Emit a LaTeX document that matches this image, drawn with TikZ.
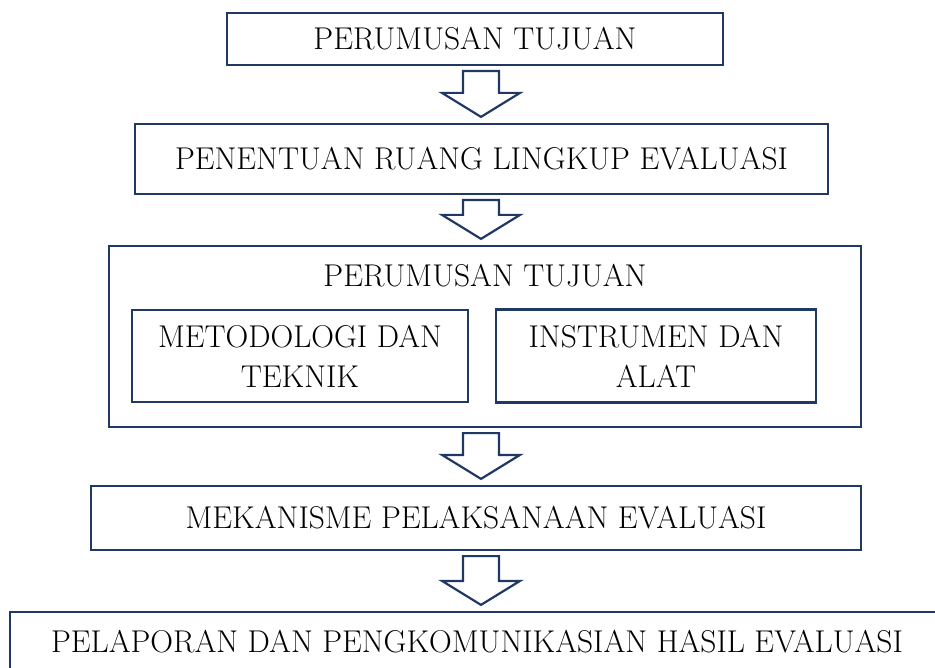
\documentclass[tikz,border=0pt]{standalone}
\usepackage{fontspec}
\usetikzlibrary{calc}
\definecolor{biru}{HTML}{1F3864}

\begin{document}
\begin{tikzpicture}[
  x=1pt, y=-1pt,
  kotak/.style={draw=biru, line width=2.2pt, inner sep=0pt, align=center, font=\fontsize{31.5}{40}\selectfont},
  judul/.style={inner sep=0pt, font=\fontsize{31.5}{40}\selectfont},
  panah/.style={draw=biru, line width=2.2pt, fill=white, line join=miter}
]
\useasboundingbox (0,0) rectangle (935,668);

%% BOXES
\node[kotak, minimum width=496, minimum height=52] (tujuan) at (475,39) {PERUMUSAN TUJUAN};
\node[kotak, minimum width=693, minimum height=70] (ruang) at (481.5,159) {PENENTUAN RUANG LINGKUP EVALUASI};

% outer box with two inner boxes
\node[kotak, minimum width=752, minimum height=181] (rencana) at (485,336.5) {};
\node[judul] (judulrencana) at (485,276) {PERUMUSAN TUJUAN};
\node[kotak, minimum width=336, minimum height=92] (metode) at (300,356) {METODOLOGI DAN\\TEKNIK};
\node[kotak, minimum width=320, minimum height=93] (instrumen) at (656,356) {INSTRUMEN DAN\\ALAT};

\node[kotak, minimum width=770, minimum height=64] (mekanisme) at (476,518) {MEKANISME PELAKSANAAN EVALUASI};
\node[kotak, minimum width=934, minimum height=60] (laporan) at (477,642) {PELAPORAN DAN PENGKOMUNIKASIAN HASIL EVALUASI};

%% BLOCK ARROWS
\coordinate (sumbu) at (481,0);
\foreach \atas/\bawah in {tujuan/ruang, ruang/rencana, rencana/mekanisme, mekanisme/laporan}{
  \coordinate (pa) at ($(sumbu |- \atas.south)+(0,5)$);
  \coordinate (pb) at ($(sumbu |- \bawah.north)+(0,-6)$);
  \draw[panah] ($(pa)+(-18,0)$) -- ($(pb)+(-18,-24)$) -- ($(pb)+(-39,-24)$) -- (pb)
    -- ($(pb)+(39,-24)$) -- ($(pb)+(18,-24)$) -- ($(pa)+(18,0)$) -- cycle;
}

\end{tikzpicture}
\end{document}
